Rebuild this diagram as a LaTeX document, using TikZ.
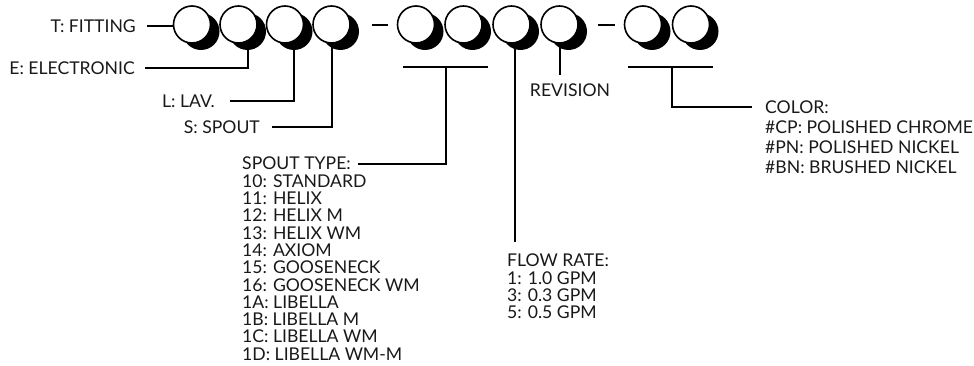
\documentclass[tikz,border=0pt]{standalone}
\usepackage{fontspec}
\setmainfont{Lato}
\usetikzlibrary{shadows,backgrounds}
\begin{document}
\begin{tikzpicture}[x=1pt,y=-1pt,
  lbl/.style={font=\fontsize{17.6}{17.3}\selectfont, inner sep=0pt, text=black!90, align=left},
  wire/.style={line width=2pt, line cap=butt},
  bead/.style={circle, draw=black, line width=1.6pt, fill=white, minimum size=37pt, inner sep=0pt,
    drop shadow={shadow xshift=9pt, shadow yshift=-7pt, fill=black, opacity=1}}]
\useasboundingbox (0,0) rectangle (974,366);
% beads
\node[bead] (a1) at (192,24.5) {};
\node[bead] (a2) at (238.5,24.5) {};
\node[bead] (a3) at (285,24.5) {};
\node[bead] (a4) at (331.5,24.5) {};
\node[bead] (a5) at (416,24.5) {};
\node[bead] (a6) at (463.5,24.5) {};
\node[bead] (a7) at (511.5,24.5) {};
\node[bead] (a8) at (559.5,24.5) {};
\node[bead] (a9) at (643,24.5) {};
\node[bead] (a10) at (691,24.5) {};
% dashes
\coordinate (d1l) at (372,25.5); \coordinate (d1r) at (388,25.5);
\coordinate (d2l) at (598,25.5); \coordinate (d2r) at (615,25.5);
\draw[wire] (d1l) -- (d1r);
\draw[wire] (d2l) -- (d2r);
% labels
\node[lbl, anchor=east] (tfit) at (136,26.5) {T: FITTING};
\node[lbl, anchor=east] (elec) at (135,68) {E: ELECTRONIC};
\node[lbl, anchor=east] (lav) at (215,101) {L: LAV.};
\node[lbl, anchor=east] (spt) at (260,127) {S: SPOUT};
\node[lbl, anchor=north west] (stype) at (242,157) {SPOUT TYPE:\\10: STANDARD\\11: HELIX\\12: HELIX M\\13: HELIX WM\\14: AXIOM\\15: GOOSENECK\\16: GOOSENECK WM\\1A: LIBELLA\\1B: LIBELLA M\\1C: LIBELLA WM\\1D: LIBELLA WM-M};
\node[lbl, anchor=north west] (flow) at (507,254) {FLOW RATE:\\1: 1.0 GPM\\3: 0.3 GPM\\5: 0.5 GPM};
\node[lbl, anchor=center] (rev) at (570,90.5) {REVISION};
\node[lbl, anchor=north west, font=\fontsize{17.6}{20}\selectfont] (color) at (765,101) {COLOR:\\\#CP: POLISHED CHROME\\\#PN: POLISHED NICKEL\\\#BN: BRUSHED NICKEL};
% connector coordinates
\coordinate (b1l) at (403,67); \coordinate (b1r) at (488,67); \coordinate (b1m) at (446,67);
\coordinate (st) at (358,164);
\coordinate (fr) at (515,242);
\coordinate (b2l) at (628,67); \coordinate (b2r) at (713,67); \coordinate (b2m) at (672,67);
\coordinate (ce) at (752,107);
\begin{scope}[on background layer]
\draw[wire] ([xshift=11pt]tfit.east) -- (tfit.east -| a1.west);
\draw[wire] ([xshift=10pt]elec.east) -| ([xshift=9pt]a2.center);
\draw[wire] ([xshift=15pt]lav.east) -| ([xshift=9pt]a3.center);
\draw[wire] ([xshift=12pt]spt.east) -| (a4.center);
\draw[wire] (fr |- a7.center) -- (fr);
\draw[wire, shorten >=9pt] (a8.center) -- (a8.center |- rev.north);
\end{scope}
\draw[wire] (b1l) -- (b1r);
\draw[wire] (b1m) |- (st);
\draw[wire] (b2l) -- (b2r);
\draw[wire] (b2m) |- (ce);
\end{tikzpicture}
\end{document}
